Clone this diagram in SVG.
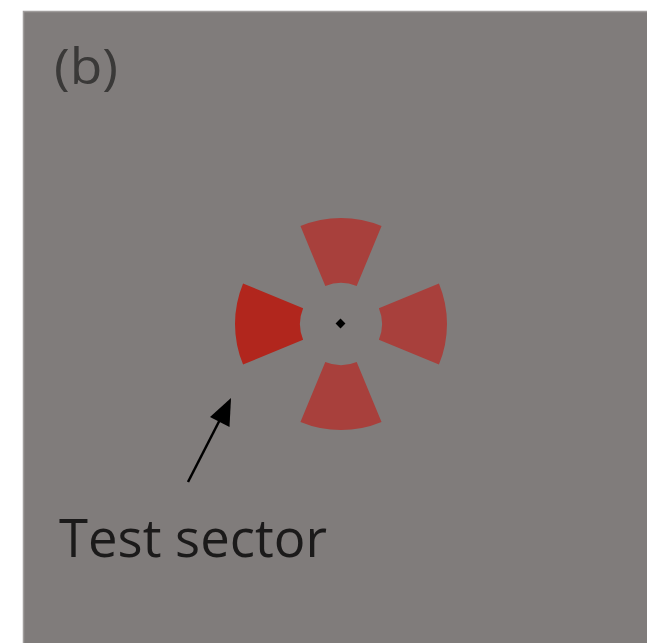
<svg xmlns="http://www.w3.org/2000/svg" width="647" height="643" viewBox="0 0 647 643">
<defs>
<style>
.bg{fill:#807c7b;stroke:#a09d9c;stroke-width:1.5}
.sec{fill:#a8403c}
.test{fill:#b1261d}
.lbl{font-family:"Open Sans","Liberation Sans",sans-serif;fill:#1b1a1a}
</style>
<path id="sector" d="M -40.56,-97.93 A 106 106 0 0 1 40.56,-97.93 L 15.69,-37.88 A 41 41 0 0 0 -15.69,-37.88 Z"/>
</defs>
<rect width="647" height="643" fill="#ffffff"/>
<rect class="bg" x="23.5" y="11.5" width="630" height="640"/>
<text class="lbl" x="54" y="84" font-size="50" textLength="64" lengthAdjust="spacingAndGlyphs" style="fill:#3a3938">(b)</text>
<g id="stimulus">
<g id="sector-top"><use href="#sector" class="sec" transform="translate(341 324)"/></g>
<g id="sector-right"><use href="#sector" class="sec" transform="translate(341 324) rotate(90)"/></g>
<g id="sector-bottom"><use href="#sector" class="sec" transform="translate(341 324) rotate(180)"/></g>
<g id="sector-left"><use href="#sector" class="test" transform="translate(341 324) rotate(-90)"/></g>
<g id="fixation"><rect x="337" y="320" width="7" height="7" fill="#000" transform="rotate(45 340.5 323.5)"/></g>
</g>
<g id="connectors">
<line x1="188" y1="482" x2="229" y2="402" stroke="#000" stroke-width="2.5"/>
<path d="M231,398 L229.5,427 L210,417 Z" fill="#000"/>
</g>
<g id="label-test-sector">
<text class="lbl" x="59" y="557" font-size="53" textLength="268" lengthAdjust="spacingAndGlyphs">Test sector</text>
</g>
</svg>
